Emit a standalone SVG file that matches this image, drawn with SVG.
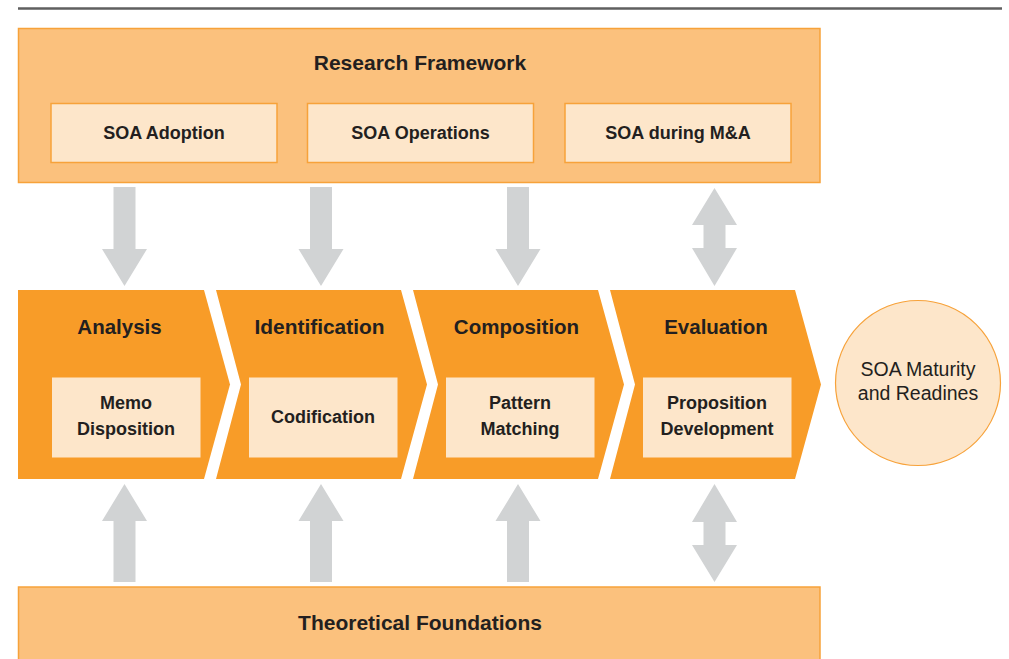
<svg xmlns="http://www.w3.org/2000/svg" xmlns:xlink="http://www.w3.org/1999/xlink" width="1009" height="659" viewBox="0 0 1009 659">
  <style>
    .band { fill: #FBC17D; stroke: #F7A23A; stroke-width: 1.5; }
    .item { fill: #FDE6CA; stroke: #F7A23A; stroke-width: 1.5; }
    .inner { fill: #FDE6CA; }
    .step { fill: #F89C28; }
    .arrow { fill: #D1D3D4; }
    .t { font-family: "Liberation Sans", Arial, sans-serif; fill: #231F20; text-anchor: middle; }
    .b { font-weight: bold; }
    .h1 { font-size: 21px; }
    .h2 { font-size: 20.5px; }
    .lbl { font-size: 18px; }
    .circ { fill: #FDE6CA; stroke: #F7A23A; stroke-width: 1.2; }
  </style>
  <defs>
    <!-- single arrow pointing down, origin at column centre -->
    <path id="arrowDown" d="M-11,187 H11 V249 H22.5 L0,286 L-22.5,249 H-11 Z"/>
    <!-- single arrow pointing up -->
    <path id="arrowUp" d="M0,484 L22.5,521 H11 V582 H-11 V521 H-22.5 Z"/>
    <!-- double-headed arrow, top gap -->
    <path id="arrowBothTop" d="M0,188 L22.5,225 H11 V248 H22.5 L0,286 L-22.5,248 H-11 V225 H-22.5 Z"/>
    <!-- double-headed arrow, bottom gap -->
    <path id="arrowBothBottom" d="M0,484 L22.5,522 H11 V545 H22.5 L0,582 L-22.5,545 H-11 V522 H-22.5 Z"/>
  </defs>

  <rect width="1009" height="659" fill="#FFFFFF"/>

  <!-- header rule -->
  <line x1="18" y1="8.5" x2="1002" y2="8.5" stroke="#5F5F5F" stroke-width="2.5"/>

  <!-- Research Framework band -->
  <g id="research-framework">
    <rect class="band" x="18.5" y="28.5" width="801.5" height="154"/>
    <text class="t b h1" x="420" y="70">Research Framework</text>
  </g>
  <g id="soa-adoption">
    <rect class="item" x="51" y="103.5" width="226" height="59"/>
    <text class="t b lbl" x="164" y="138.5">SOA Adoption</text>
  </g>
  <g id="soa-operations">
    <rect class="item" x="307.5" y="103.5" width="226" height="59"/>
    <text class="t b lbl" x="420.5" y="138.5">SOA Operations</text>
  </g>
  <g id="soa-ma">
    <rect class="item" x="565" y="103.5" width="226" height="59"/>
    <text class="t b lbl" x="678" y="138.5">SOA during M&amp;A</text>
  </g>

  <!-- process steps -->
  <g id="analysis">
    <polygon class="step" points="18,290 204,290 230,384.5 204,479 18,479"/>
    <text class="t b h2" x="119.5" y="333.5">Analysis</text>
    <rect class="inner" x="52" y="377.5" width="148.5" height="80"/>
    <text class="t b lbl" x="126" y="408.5">Memo</text>
    <text class="t b lbl" x="126" y="435">Disposition</text>
  </g>
  <g id="identification">
    <polygon class="step" points="216,290 401,290 427,384.5 401,479 216,479 241,384.5"/>
    <text class="t b h2" x="319.5" y="333.5" textLength="130" lengthAdjust="spacingAndGlyphs">Identification</text>
    <rect class="inner" x="249" y="377.5" width="148.5" height="80"/>
    <text class="t b lbl" x="323" y="422.5">Codification</text>
  </g>
  <g id="composition">
    <polygon class="step" points="413,290 598,290 624,384.5 598,479 413,479 438,384.5"/>
    <text class="t b h2" x="516.5" y="333.5">Composition</text>
    <rect class="inner" x="446" y="377.5" width="148.5" height="80"/>
    <text class="t b lbl" x="520" y="408.5">Pattern</text>
    <text class="t b lbl" x="520" y="435">Matching</text>
  </g>
  <g id="evaluation">
    <polygon class="step" points="610,290 795,290 821,384.5 795,479 610,479 635,384.5"/>
    <text class="t b h2" x="716" y="333.5">Evaluation</text>
    <rect class="inner" x="643" y="377.5" width="148.5" height="80"/>
    <text class="t b lbl" x="717" y="408.5">Proposition</text>
    <text class="t b lbl" x="717" y="435">Development</text>
  </g>

  <!-- outcome -->
  <g id="soa-maturity">
    <circle class="circ" cx="918" cy="383" r="82.5"/>
    <text class="t" x="918" y="376" font-size="19.5">SOA Maturity</text>
    <text class="t" x="918" y="400" font-size="19.5">and Readines</text>
  </g>

  <!-- Theoretical Foundations band -->
  <g id="theoretical-foundations">
    <rect class="band" x="18.5" y="587" width="801.5" height="80"/>
    <text class="t b h1" x="420" y="629.5">Theoretical Foundations</text>
  </g>

  <!-- connectors -->
  <g id="connectors" class="arrow">
    <use xlink:href="#arrowDown" transform="translate(124.5,0)"/>
    <use xlink:href="#arrowDown" transform="translate(321,0)"/>
    <use xlink:href="#arrowDown" transform="translate(518,0)"/>
    <use xlink:href="#arrowBothTop" transform="translate(714.5,0)"/>
    <use xlink:href="#arrowUp" transform="translate(124.5,0)"/>
    <use xlink:href="#arrowUp" transform="translate(321,0)"/>
    <use xlink:href="#arrowUp" transform="translate(518,0)"/>
    <use xlink:href="#arrowBothBottom" transform="translate(714.5,0)"/>
  </g>
</svg>
